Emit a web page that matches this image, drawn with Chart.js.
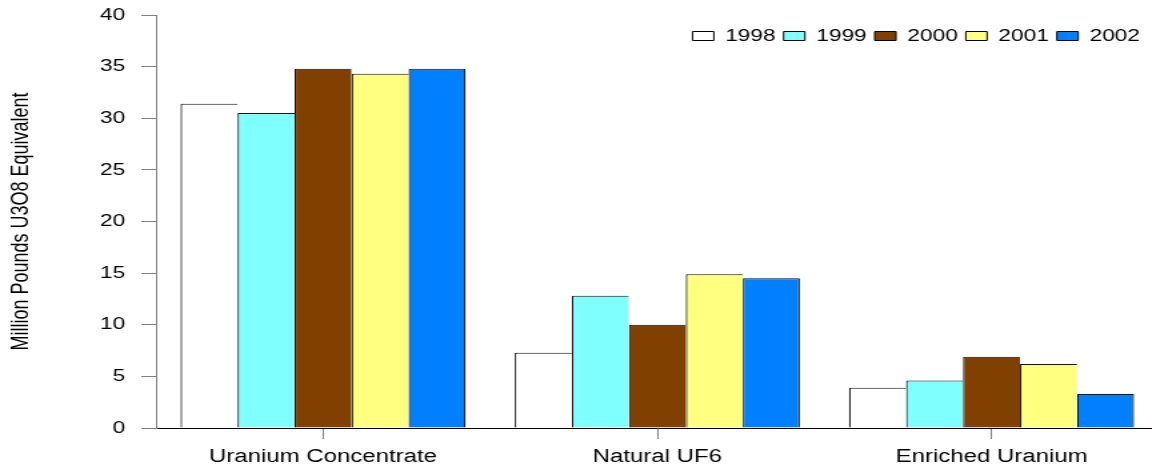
<!DOCTYPE html>
<html>
<head>
<meta charset="utf-8">
<script src="https://cdn.jsdelivr.net/npm/chart.js@4.4.1/dist/chart.umd.min.js"></script>
<style>
  html, body { margin: 0; padding: 0; background: #fff; overflow: hidden; }
  /* the reference is a horizontally stretched picture, so draw narrow and stretch */
  #wrap { width: 869px; height: 465px; transform: scaleX(1.3333); transform-origin: 0 0; }
</style>
</head>
<body>
<div id="wrap"><canvas id="chart" width="869" height="465"></canvas></div>
<script>
const categories = ["Uranium Concentrate", "Natural UF6", "Enriched Uranium"];
const years = ["1998", "1999", "2000", "2001", "2002"];
const values1998 = [31.4, 7.3, 3.9];
const values1999 = [30.5, 12.8, 4.6];
const values2000 = [34.8, 10.0, 6.9];
const values2001 = [34.3, 14.9, 6.2];
const values2002 = [34.8, 14.5, 3.3];
const yearColors = ["#ffffff", "#80ffff", "#804000", "#ffff80", "#0080ff"];
const yTitle = "Million Pounds U3O8 Equivalent";

const FONT = "'Liberation Sans', Arial, Helvetica, sans-serif";
const allValues = [values1998, values1999, values2000, values2001, values2002];

const datasets = years.map((year, i) => ({
  label: year,
  data: allValues[i],
  backgroundColor: yearColors[i],
  borderColor: "#111",
  // shared edges: only the last bar of a group draws its right side
  borderWidth: { top: 1, left: 1.2, right: i === years.length - 1 ? 1.2 : 0, bottom: 0 },
  borderSkipped: false,
  categoryPercentage: 0.853,
  barPercentage: 1.0,
}));

// legend sits inside the plot, top right, like the reference
const legendPlace = {
  id: "legendPlace",
  afterLayout(chart) {
    const lg = chart.legend;
    if (!lg) return;
    const w = lg.width;
    lg.right = 861;
    lg.left = lg.right - w;
    lg.top = 21.5;
    lg.bottom = lg.top + 30;
  },
};

new Chart(document.getElementById("chart"), {
  type: "bar",
  data: { labels: categories, datasets: datasets },
  plugins: [legendPlace],
  options: {
    responsive: false,
    animation: false,
    devicePixelRatio: 1,
    layout: { padding: { top: 0, left: 0, right: 0, bottom: 0 } },
    plugins: {
      tooltip: { enabled: false },
      legend: {
        position: "top",
        align: "end",
        maxHeight: 15, // keeps the plot top at 15px; legend is moved afterwards
        labels: {
          boxWidth: 16,
          boxHeight: 9,
          padding: 6,
          color: "#000",
          font: { family: FONT, size: 17 },
          generateLabels(chart) {
            const items = Chart.defaults.plugins.legend.labels.generateLabels(chart);
            items.forEach((it) => { it.lineWidth = 1; it.strokeStyle = "#000"; });
            return items;
          },
        },
      },
    },
    scales: {
      x: {
        grid: { drawOnChartArea: false, offset: false, tickLength: 11, color: "#808080" },
        border: { display: true, color: "#000", width: 1 },
        ticks: { color: "#000", font: { family: FONT, size: 18 }, padding: 7, maxRotation: 0 },
        afterFit(scale) { scale.height = 37; },
      },
      y: {
        min: 0,
        max: 40,
        grid: { drawOnChartArea: false, tickLength: 11, color: "#808080" },
        border: { display: true, color: "#808080", width: 1 },
        ticks: { stepSize: 5, color: "#000", font: { family: FONT, size: 17 }, padding: 12 },
        title: {
          display: true,
          text: yTitle,
          color: "#000",
          font: { family: FONT, size: 18 },
          padding: { top: 5, bottom: 0 },
        },
        afterFit(scale) {
          scale.width = 117;
          scale.paddingTop = 0;
          scale.paddingBottom = 0;
        },
      },
    },
  },
});
</script>
</body>
</html>
